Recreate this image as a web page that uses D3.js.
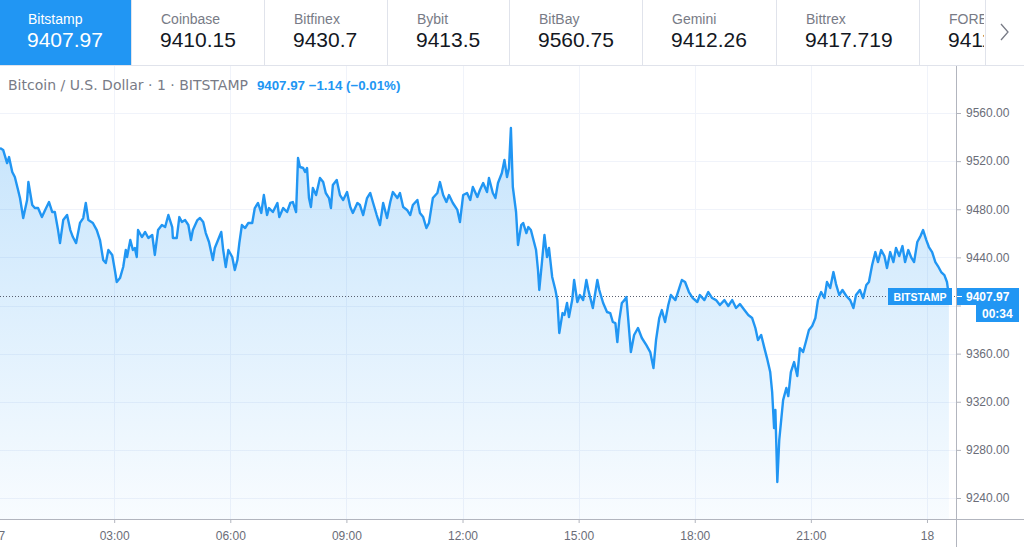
<!DOCTYPE html>
<html>
<head>
<meta charset="utf-8">
<script src="https://cdn.jsdelivr.net/npm/d3@7"></script>
<style>
  body { margin: 0; background: #fff; }
  svg { display: block; font-family: "Liberation Sans", Arial, sans-serif; }
</style>
</head>
<body>
<div id="chart"></div>
<script>
// exchange tabs
const exchanges = ['Bitstamp', 'Coinbase', 'Bitfinex', 'Bybit', 'BitBay', 'Gemini', 'Bittrex', 'FOREX.com']
const quotes = ['9407.97', '9410.15', '9430.7', '9413.5', '9560.75', '9412.26', '9417.719', '9411.5']

// minutes since 00:00 on the 17th, and BTC price (Bitstamp, 1 min)
const minutes = [
  3, 8, 14, 17, 22, 26, 31, 34, 39, 45, 47, 53, 57, 62, 68, 73, 79, 84, 88, 93,
  96, 101, 107, 112, 116, 121, 127, 132, 136, 140, 147, 153, 158, 163, 167, 171, 177, 181, 184, 189,
  194, 198, 200, 205, 209, 212, 215, 217, 223, 228, 233, 239, 243, 248, 254, 259, 264, 270, 271, 277,
  281, 285, 290, 295, 299, 302, 309, 313, 318, 322, 327, 333, 336, 341, 346, 349, 353, 357, 363, 367,
  371, 374, 378, 383, 388, 394, 398, 403, 408, 412, 417, 420, 426, 433, 436, 442, 448, 453, 457, 462,
  465, 468, 473, 476, 479, 482, 485, 488, 493, 499, 504, 508, 513, 516, 519, 525, 530, 535, 541, 546,
  550, 557, 561, 566, 572, 577, 581, 587, 592, 597, 603, 608, 612, 619, 623, 628, 634, 639, 643, 650,
  654, 659, 664, 668, 674, 681, 685, 690, 695, 699, 705, 712, 716, 721, 727, 732, 736, 743, 747, 752,
  758, 761, 767, 771, 775, 781, 785, 789, 792, 795, 798, 803, 806, 811, 814, 819, 822, 826, 830, 834,
  837, 839, 843, 847, 851, 854, 859, 864, 867, 870, 875, 878, 882, 885, 890, 893, 898, 902, 907, 912,
  915, 919, 922, 929, 932, 938, 944, 949, 953, 957, 960, 963, 967, 971, 974, 977, 981, 986, 992, 998,
  1005, 1011, 1016, 1020, 1025, 1029, 1034, 1039, 1043, 1050, 1056, 1060, 1065, 1071, 1077, 1084, 1088, 1095, 1101, 1107,
  1113, 1119, 1126, 1132, 1138, 1144, 1150, 1157, 1163, 1169, 1174, 1178, 1183, 1188, 1192, 1197, 1200, 1203, 1205, 1208,
  1211, 1214, 1217, 1222, 1225, 1229, 1234, 1239, 1243, 1248, 1253, 1257, 1262, 1267, 1271, 1276, 1281, 1285, 1290, 1295,
  1299, 1304, 1309, 1315, 1321, 1326, 1330, 1336, 1341, 1346, 1350, 1355, 1360, 1364, 1369, 1374, 1378, 1383, 1388, 1392,
  1397, 1402, 1406, 1411, 1416, 1420, 1425, 1430, 1434, 1439, 1443, 1448, 1453, 1457, 1462, 1467, 1471, 1474
]
const prices = [
  9530.9, 9529.2, 9518.4, 9523.4, 9511.0, 9506.8, 9496.0, 9489.3, 9472.7, 9487.7, 9502.6, 9483.5, 9481.0, 9481.0, 9473.5, 9479.4, 9486.0, 9477.7, 9477.7, 9462.7,
  9451.9, 9471.0, 9475.2, 9462.7, 9456.9, 9451.9, 9468.6, 9472.7, 9485.2, 9471.0, 9468.6, 9462.7, 9454.4, 9437.8, 9435.3, 9446.1, 9442.0, 9429.5, 9419.5, 9422.8,
  9432.0, 9446.1, 9440.3, 9454.4, 9446.1, 9447.8, 9440.3, 9462.7, 9456.9, 9461.1, 9456.1, 9458.6, 9442.0, 9462.7, 9466.9, 9465.2, 9475.2, 9465.2, 9456.1, 9456.1,
  9473.5, 9469.4, 9471.0, 9466.9, 9454.4, 9462.7, 9471.0, 9472.7, 9469.4, 9460.2, 9452.8, 9437.8, 9447.8, 9454.4, 9461.1, 9446.1, 9432.0, 9446.1, 9440.3, 9429.5,
  9437.8, 9451.9, 9466.9, 9464.4, 9468.6, 9468.6, 9481.0, 9485.2, 9476.9, 9491.8, 9475.2, 9481.0, 9477.7, 9485.2, 9473.5, 9481.0, 9477.7, 9485.2, 9486.0, 9477.7,
  9522.6, 9515.1, 9514.3, 9511.0, 9514.3, 9489.3, 9481.9, 9497.7, 9491.8, 9506.0, 9502.6, 9493.5, 9489.3, 9481.0, 9500.1, 9504.3, 9491.8, 9487.7, 9494.3, 9481.9,
  9476.9, 9485.2, 9483.5, 9475.2, 9489.3, 9493.5, 9486.0, 9475.2, 9466.9, 9485.2, 9472.7, 9486.0, 9494.3, 9489.3, 9493.5, 9481.9, 9479.4, 9475.2, 9483.5, 9487.7,
  9476.9, 9473.5, 9464.4, 9468.6, 9489.3, 9493.5, 9502.6, 9491.8, 9486.0, 9491.8, 9485.2, 9479.4, 9469.4, 9491.8, 9493.5, 9487.7, 9498.5, 9490.2, 9496.0, 9501.8,
  9494.3, 9506.0, 9493.5, 9489.3, 9501.8, 9510.1, 9520.9, 9506.8, 9514.3, 9547.5, 9498.5, 9477.7, 9450.3, 9466.9, 9468.6, 9460.2, 9465.2, 9462.7, 9454.4, 9446.1,
  9429.5, 9412.9, 9435.3, 9458.6, 9440.3, 9447.8, 9423.7, 9412.9, 9404.5, 9377.1, 9393.7, 9392.1, 9402.1, 9390.4, 9404.5, 9421.2, 9402.9, 9408.7, 9404.5, 9421.2,
  9412.9, 9404.5, 9397.9, 9421.2, 9412.9, 9402.1, 9394.6, 9393.7, 9386.3, 9385.4, 9369.6, 9387.9, 9402.1, 9404.5, 9407.0, 9387.9, 9361.3, 9375.5, 9381.3, 9373.0,
  9367.1, 9361.3, 9348.0, 9371.3, 9389.6, 9396.2, 9386.3, 9400.4, 9408.7, 9404.5, 9414.5, 9421.2, 9419.5, 9411.2, 9406.2, 9402.9, 9408.7, 9404.5, 9411.2, 9406.2,
  9404.5, 9400.4, 9404.5, 9399.6, 9404.5, 9397.9, 9401.2, 9396.2, 9392.1, 9389.6, 9381.3, 9371.3, 9375.5, 9364.6, 9356.3, 9344.7, 9328.1, 9298.1, 9313.1, 9253.3,
  9288.2, 9304.8, 9321.4, 9331.4, 9324.7, 9344.7, 9353.0, 9341.4, 9364.6, 9361.3, 9371.3, 9379.6, 9382.9, 9389.6, 9404.5, 9411.2, 9406.2, 9419.5, 9414.5, 9427.8,
  9417.8, 9408.7, 9412.9, 9407.9, 9404.5, 9397.9, 9408.7, 9412.9, 9406.2, 9417.0, 9419.5, 9433.6, 9444.4, 9436.1, 9446.1, 9441.1, 9431.1, 9444.4, 9436.1, 9447.8,
  9441.1, 9449.4, 9436.1, 9446.1, 9439.5, 9436.1, 9452.8, 9457.7, 9462.7, 9454.4, 9448.6, 9444.4, 9436.1, 9432.8, 9427.8, 9425.3, 9419.5, 9407.97
]

const priceTicks = [9240, 9280, 9320, 9360, 9400, 9440, 9480, 9520, 9560]
const lastPrice = 9407.97
const lastLabel = '9407.97'
const countdown = '00:34'

const blue = '#2196f3'
const W = 1024
const H = 547
const plotRight = 956
const plotTop = 65
const plotBottom = 519

const day = new Date(2020, 5, 17)
const data = minutes.map((m, i) => ({ date: d3.timeMinute.offset(day, m), price: prices[i] }))

const svg = d3.select('#chart').append('svg').attr('width', W).attr('height', H)

// ---- tab bar ----
const tabEdges = [0, 131, 264, 387, 509, 642, 776, 919, 985]
svg.append('clipPath').attr('id', 'tabclip')
  .append('rect').attr('x', 0).attr('y', 0).attr('width', 984).attr('height', 65)

const tabs = svg.append('g').attr('clip-path', 'url(#tabclip)')
  .selectAll('g')
  .data(exchanges)
  .enter()
  .append('g')
  .attr('transform', (d, i) => 'translate(' + tabEdges[i] + ',0)')

tabs.append('rect')
  .attr('width', (d, i) => (tabEdges[i + 1] || 1060) - tabEdges[i])
  .attr('height', 65)
  .attr('fill', (d, i) => i === 0 ? blue : '#fff')

tabs.append('text')
  .text(d => d)
  .attr('x', (d, i) => i === 0 ? 28 : 30)
  .attr('y', 24)
  .attr('font-size', 14)
  .attr('fill', (d, i) => i === 0 ? '#fff' : '#787b86')

tabs.append('text')
  .text((d, i) => quotes[i])
  .attr('x', (d, i) => i === 0 ? 27 : 29)
  .attr('y', 47)
  .attr('font-size', 21)
  .attr('fill', (d, i) => i === 0 ? '#fff' : '#131722')

svg.selectAll('.tabsep')
  .data(tabEdges.slice(1))
  .enter()
  .append('line')
  .attr('x1', d => d + 0.5).attr('x2', d => d + 0.5)
  .attr('y1', 0).attr('y2', 65)
  .attr('stroke', '#e0e3eb')

svg.append('line')
  .attr('x1', 0).attr('x2', W)
  .attr('y1', 65.5).attr('y2', 65.5)
  .attr('stroke', '#e0e3eb')

svg.append('path')
  .attr('d', 'M1001,24 L1008,32 L1001,40')
  .attr('fill', 'none')
  .attr('stroke', '#787b86')
  .attr('stroke-width', 1.3)

// ---- scales ----
const xScale = d3.scaleTime()
  .domain([d3.timeMinute.offset(day, 3), d3.timeMinute.offset(day, 1485)])
  .range([0, plotRight])

const yScale = d3.scaleLinear()
  .domain([9240, 9560])
  .range([498, 113])

const timeTicks = d3.timeHour.every(3).range(day, d3.timeHour.offset(day, 25))

// grid
svg.append('g')
  .selectAll('line')
  .data(timeTicks)
  .enter()
  .append('line')
  .attr('x1', d => Math.round(xScale(d)) + 0.5)
  .attr('x2', d => Math.round(xScale(d)) + 0.5)
  .attr('y1', plotTop + 1).attr('y2', plotBottom)
  .attr('stroke', '#f0f3fa')

svg.append('g')
  .selectAll('line')
  .data(priceTicks)
  .enter()
  .append('line')
  .attr('x1', 0).attr('x2', plotRight)
  .attr('y1', d => Math.round(yScale(d)) + 0.5)
  .attr('y2', d => Math.round(yScale(d)) + 0.5)
  .attr('stroke', '#f0f3fa')

// ---- area + line ----
const grad = svg.append('defs').append('linearGradient')
  .attr('id', 'fillgrad')
  .attr('gradientUnits', 'userSpaceOnUse')
  .attr('x1', 0).attr('x2', 0)
  .attr('y1', 120).attr('y2', plotBottom)
grad.append('stop').attr('offset', '0%').attr('stop-color', blue).attr('stop-opacity', 0.26)
grad.append('stop').attr('offset', '100%').attr('stop-color', blue).attr('stop-opacity', 0.03)

svg.append('clipPath').attr('id', 'plotclip')
  .append('rect').attr('x', 0).attr('y', plotTop + 1)
  .attr('width', plotRight).attr('height', plotBottom - plotTop - 1)

const plot = svg.append('g').attr('clip-path', 'url(#plotclip)')

const area = d3.area()
  .x(d => xScale(d.date))
  .y0(plotBottom)
  .y1(d => yScale(d.price))

const line = d3.line()
  .x(d => xScale(d.date))
  .y(d => yScale(d.price))

plot.append('path')
  .datum(data)
  .attr('d', area)
  .attr('fill', 'url(#fillgrad)')

// last price dotted line
plot.append('line')
  .attr('x1', 0).attr('x2', plotRight)
  .attr('y1', Math.round(yScale(lastPrice)) + 0.5)
  .attr('y2', Math.round(yScale(lastPrice)) + 0.5)
  .attr('stroke', '#5a6070')
  .attr('stroke-dasharray', '1,2')

plot.append('path')
  .datum(data)
  .attr('d', line)
  .attr('fill', 'none')
  .attr('stroke', blue)
  .attr('stroke-width', 2.4)
  .attr('stroke-linejoin', 'round')

// ---- axes ----
const xAxis = d3.axisBottom(xScale)
  .tickValues(timeTicks)
  .tickSize(4)
  .tickPadding(8)
  .tickFormat(d => d.getHours() === 0 ? d3.timeFormat('%d')(d) : d3.timeFormat('%H:%M')(d))

const gx = svg.append('g')
  .attr('transform', 'translate(0,' + plotBottom + ')')
  .call(xAxis)
gx.select('.domain').remove()
gx.selectAll('line').attr('stroke', '#b2b5be')
gx.selectAll('text').attr('fill', '#6a6d78').attr('font-size', 12)
  .attr('font-family', '"Liberation Sans", Arial, sans-serif')

svg.append('line')
  .attr('x1', 0).attr('x2', W)
  .attr('y1', plotBottom + 0.5).attr('y2', plotBottom + 0.5)
  .attr('stroke', '#b2b5be')

const yAxis = d3.axisRight(yScale)
  .tickValues(priceTicks)
  .tickSize(5)
  .tickPadding(5)
  .tickFormat(d => d === 9400 ? '' : d3.format('.2f')(d)) // 9400 sits under the last-price tag

const gy = svg.append('g')
  .attr('transform', 'translate(' + plotRight + ',0)')
  .call(yAxis)
gy.select('.domain').remove()
gy.selectAll('line').attr('stroke', '#b2b5be')
gy.selectAll('text').attr('fill', '#6a6d78').attr('font-size', 12)
  .attr('font-family', '"Liberation Sans", Arial, sans-serif')

svg.append('line')
  .attr('x1', plotRight + 0.5).attr('x2', plotRight + 0.5)
  .attr('y1', plotTop + 1).attr('y2', H)
  .attr('stroke', '#b2b5be')

// ---- last price labels ----
const ly = Math.round(yScale(lastPrice))

svg.append('rect')
  .attr('x', 888).attr('y', ly - 8).attr('width', 64).attr('height', 17)
  .attr('fill', blue)
svg.append('text')
  .text('BITSTAMP')
  .attr('x', 920).attr('y', ly + 4.5)
  .attr('text-anchor', 'middle')
  .attr('font-size', 10.5)
  .attr('font-weight', 'bold')
  .attr('fill', '#fff')

svg.append('rect')
  .attr('x', plotRight + 1).attr('y', ly - 8).attr('width', 62).attr('height', 17)
  .attr('fill', blue)
svg.append('line')
  .attr('x1', plotRight + 1).attr('x2', plotRight + 6)
  .attr('y1', ly + 0.5).attr('y2', ly + 0.5)
  .attr('stroke', '#fff')
svg.append('text')
  .text(lastLabel)
  .attr('x', 966).attr('y', ly + 4.5)
  .attr('font-size', 12)
  .attr('font-weight', 'bold')
  .attr('fill', '#fff')

svg.append('rect')
  .attr('x', 976).attr('y', ly + 9).attr('width', 43).attr('height', 17)
  .attr('fill', blue)
svg.append('text')
  .text(countdown)
  .attr('x', 982).attr('y', ly + 22)
  .attr('font-size', 12)
  .attr('font-weight', 'bold')
  .attr('fill', '#fff')

// ---- legend ----
const legend = svg.append('text').attr('x', 8).attr('y', 90)
legend.append('tspan')
  .text('Bitcoin / U.S. Dollar · 1 · BITSTAMP')
  .attr('font-size', 14)
  .attr('font-family', '"DejaVu Sans", sans-serif')
  .attr('fill', '#787b86')
legend.append('tspan')
  .text('9407.97 −1.14 (−0.01%)')
  .attr('dx', 9)
  .attr('font-size', 13.3)
  .attr('font-weight', 'bold')
  .attr('fill', blue)
</script>
</body>
</html>
